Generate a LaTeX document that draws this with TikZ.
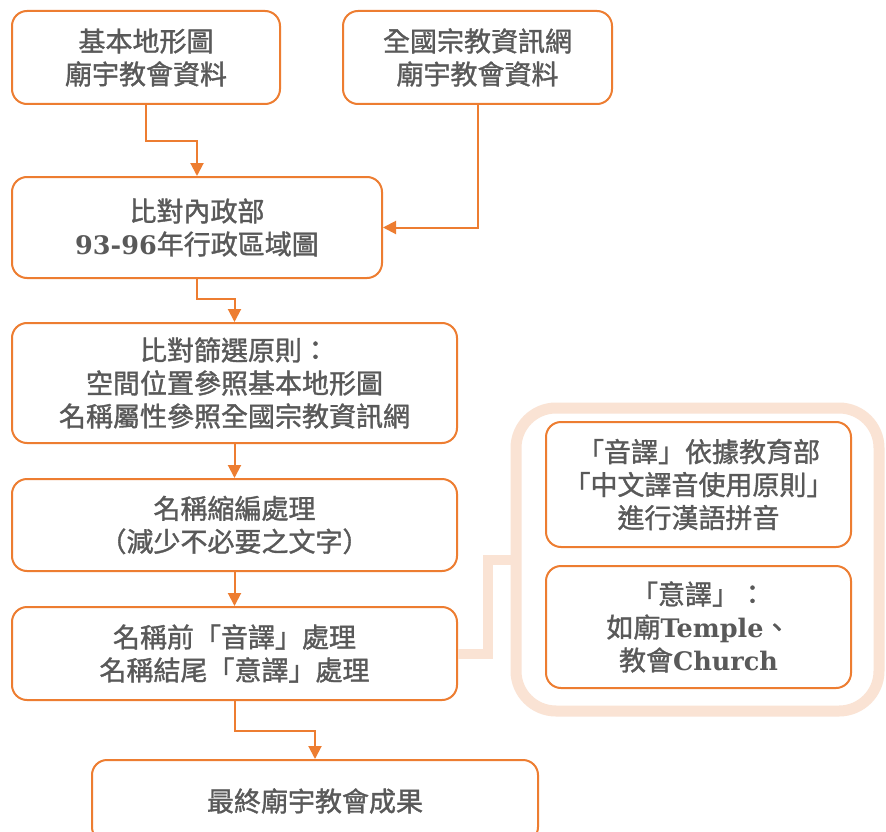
\documentclass[tikz,border=0pt]{standalone}
\usepackage{fontspec}
\usetikzlibrary{arrows.meta,calc}
\newfontfamily\cjk[FakeBold=1.3]{Noto Sans CJK TC}
\newfontfamily\lat{DejaVu Serif}
\definecolor{orng}{HTML}{ED7D31}
\definecolor{peach}{HTML}{FAE3D4}
\definecolor{txt}{HTML}{595959}
\newcommand{\lt}[1]{{\lat\bfseries\fontsize{25.5}{33}\selectfont #1}}
\begin{document}
\begin{tikzpicture}[x=1pt,y=-1pt,
  box/.style={draw=orng, line width=2pt, rounded corners=15pt, fill=white,
    align=center, inner sep=0pt, text=txt, font=\cjk\fontsize{27}{33}\selectfont},
  arr/.style={draw=orng, line width=2pt, -{Triangle[length=13pt,width=13pt]}},
  lightline/.style={draw=peach, line width=10pt},
  panel/.style={draw=peach, line width=11pt, rounded corners=40pt, inner sep=0pt}]
\useasboundingbox[fill=white] (0,0) rectangle (886,832);
% right panel
\node[panel, minimum width=363, minimum height=303] (R) at (697.5,559.5) {};
% main boxes
\node[box, minimum width=268, minimum height=93] (A) at (146,57.5) {基本地形圖\\廟宇教會資料};
\node[box, minimum width=269, minimum height=93] (B) at (477.5,57.5) {全國宗教資訊網\\廟宇教會資料};
\node[box, minimum width=370, minimum height=101] (C) at (197,227.5) {比對內政部\\\lt{93-96}年行政區域圖};
\node[box, minimum width=445, minimum height=120] (D) at (234.5,383) {比對篩選原則：\\空間位置參照基本地形圖\\名稱屬性參照全國宗教資訊網};
\node[box, minimum width=445, minimum height=92] (E) at (234.5,525) {名稱縮編處理\\（減少不必要之文字）};
\node[box, minimum width=445, minimum height=93] (F) at (234.5,653.5) {名稱前「音譯」處理\\名稱結尾「意譯」處理};
\node[box, minimum width=446, minimum height=82] (G) at (315,801) {最終廟宇教會成果};
\node[box, minimum width=305, minimum height=125] (H) at (698.5,484.5) {「音譯」依據教育部\\「中文譯音使用原則」\\進行漢語拼音};
\node[box, minimum width=305, minimum height=122] (I) at (698.5,627) {「意譯」：\\如廟\lt{Temple}、\\教會\lt{Church}};
% connectors
\draw[arr] (A.south) -- ++(0,36) -| (C.north);
\draw[arr] (B.south) |- (C.east);
\draw[arr] (C.south) -- ++(0,20) -| (D.north);
\draw[arr] (D.south) -- (E.north);
\draw[arr] (E.south) -- (F.north);
\draw[arr] (F.south) -- ++(0,30) -| (G.north);
\draw[lightline] (F.east) -- ++(30,0) |- (R.west);
\end{tikzpicture}
\end{document}
